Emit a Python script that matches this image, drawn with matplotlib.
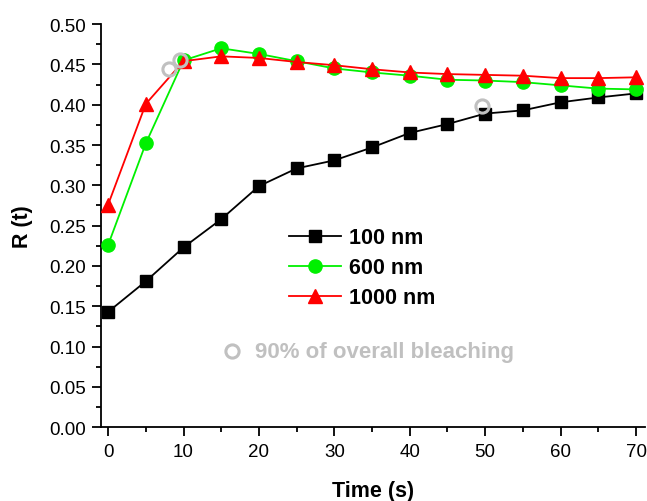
import matplotlib
matplotlib.use("Agg")
import matplotlib.pyplot as plt
from matplotlib.ticker import MultipleLocator, FormatStrFormatter

plt.rcParams['font.family'] = ['Liberation Sans', 'DejaVu Sans']

time_s = [0, 5, 10, 15, 20, 25, 30, 35, 40, 45, 50, 55, 60, 65, 70]
r_100 = [0.143, 0.181, 0.223, 0.258, 0.299, 0.321, 0.331, 0.347, 0.365, 0.376, 0.389, 0.393, 0.403, 0.409, 0.414]
r_600 = [0.226, 0.352, 0.455, 0.470, 0.463, 0.454, 0.445, 0.440, 0.436, 0.431, 0.430, 0.428, 0.424, 0.420, 0.419]
r_1000 = [0.276, 0.401, 0.454, 0.460, 0.458, 0.453, 0.449, 0.444, 0.440, 0.438, 0.437, 0.436, 0.433, 0.433, 0.434]

bleach_x = [8.1, 9.5, 49.6]
bleach_y = [0.444, 0.456, 0.398]

GRAY = '#c0c0c0'
GREEN = '#00f000'

fig = plt.figure(figsize=(6.47, 5.02), dpi=100)
ax = fig.add_axes([0.156, 0.147, 0.841, 0.803])

ax.plot(time_s, r_100, color='black', lw=1.3, marker='s', ms=8.5, mfc='black', mec='black', label='100 nm', zorder=3)
ax.plot(time_s, r_600, color=GREEN, lw=1.3, marker='o', ms=9.5, mfc=GREEN, mec=GREEN, label='600 nm', zorder=3)
ax.plot(time_s, r_1000, color='red', lw=1.3, marker='^', ms=10.5, mfc='red', mec='red', label='1000 nm', zorder=4)
ax.plot(bleach_x, bleach_y, ls='none', marker='o', ms=9.5, mfc='none', mec=GRAY, mew=2.2, zorder=5)

ax.set_xlim(-0.95, 71.2)
ax.set_ylim(0, 0.5)
ax.xaxis.set_major_locator(MultipleLocator(10))
ax.xaxis.set_minor_locator(MultipleLocator(5))
ax.yaxis.set_major_locator(MultipleLocator(0.05))
ax.yaxis.set_minor_locator(MultipleLocator(0.025))
ax.yaxis.set_major_formatter(FormatStrFormatter('%.2f'))

for s in ['top', 'right']:
    ax.spines[s].set_visible(False)
for s in ['left', 'bottom']:
    ax.spines[s].set_linewidth(1.3)

ax.tick_params(which='major', direction='out', length=6.5, width=1.3, labelsize=13.5)
ax.tick_params(axis='y', which='major', pad=4)
ax.tick_params(axis='x', which='major', pad=5)
ax.tick_params(which='minor', direction='out', length=3.5, width=1.3)

ax.set_xlabel('Time (s)', fontsize=15.5, fontweight='bold', labelpad=14)
ax.set_ylabel('R (t)', fontsize=15.5, fontweight='bold', labelpad=12)

leg = ax.legend(loc='upper left', bbox_to_anchor=(0.345, 0.496), frameon=False,
                prop={'weight': 'bold', 'size': 15.5}, handlelength=2.45,
                handletextpad=0.37, labelspacing=0.42, borderpad=0, borderaxespad=0)

ax.plot([16.4], [0.0943], ls='none', marker='o', ms=9.5, mfc='none', mec=GRAY, mew=2.2, clip_on=False)
ax.text(19.5, 0.0943, '90% of overall bleaching', color=GRAY, fontsize=16,
        fontweight='bold', va='center', ha='left')

fig.savefig('out.png', dpi=100)
